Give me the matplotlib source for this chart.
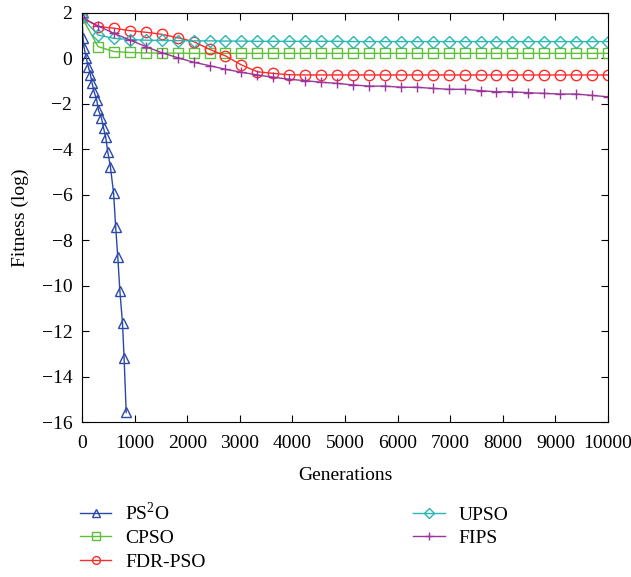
import matplotlib
matplotlib.use("Agg")
import matplotlib.pyplot as plt
import numpy as np

plt.rcParams["font.family"] = "Liberation Serif"
plt.rcParams["mathtext.fontset"] = "custom"
plt.rcParams["mathtext.rm"] = "Liberation Serif"

# PS2O is sampled more densely at the start of the run
gens_ps2o = [0, 20, 40, 80, 120, 160, 190, 230, 280, 310, 370, 410, 450,
             490, 540, 600, 640, 680, 720, 770, 800, 840]
fit_ps2o = [1.8, 0.89, 0.46, 0.02, -0.38, -0.73, -1.08, -1.48, -1.83, -2.27,
            -2.63, -3.07, -3.46, -4.12, -4.78, -5.93, -7.43, -8.75, -10.25,
            -11.66, -13.2, -15.58]

# the other four share a grid of 34 samples over 10000 generations
gens = np.linspace(0, 10000, 34)
fit_cpso = [1.8, 0.52, 0.30, 0.26, 0.24, 0.23, 0.23, 0.22, 0.22, 0.22, 0.22,
            0.22, 0.22, 0.22, 0.22, 0.22, 0.22, 0.22, 0.22, 0.22, 0.22, 0.22,
            0.22, 0.22, 0.22, 0.22, 0.22, 0.22, 0.22, 0.22, 0.22, 0.22, 0.22,
            0.22]
fit_fdr = [1.8, 1.40, 1.33, 1.22, 1.15, 1.06, 0.91, 0.74, 0.40, 0.11, -0.29,
           -0.59, -0.66, -0.72, -0.73, -0.73, -0.73, -0.73, -0.73, -0.73,
           -0.73, -0.73, -0.73, -0.73, -0.73, -0.73, -0.73, -0.73, -0.73,
           -0.73, -0.73, -0.73, -0.73, -0.73]
fit_upso = [1.8, 1.03, 0.88, 0.83, 0.80, 0.79, 0.78, 0.77, 0.77, 0.76, 0.76,
            0.75, 0.75, 0.75, 0.75, 0.75, 0.75, 0.74, 0.74, 0.74, 0.74, 0.74,
            0.74, 0.74, 0.74, 0.74, 0.74, 0.74, 0.74, 0.74, 0.74, 0.74, 0.74,
            0.74]
fit_fips = [1.8, 1.43, 1.10, 0.81, 0.52, 0.25, 0.03, -0.17, -0.32, -0.48,
            -0.61, -0.73, -0.83, -0.92, -0.98, -1.05, -1.10, -1.17, -1.22,
            -1.22, -1.27, -1.27, -1.32, -1.36, -1.36, -1.42, -1.47, -1.47,
            -1.51, -1.54, -1.57, -1.57, -1.63, -1.69]

fig = plt.figure(figsize=(6.31, 5.77), dpi=100)
ax = fig.add_axes([0.130, 0.2686, 0.8336, 0.709])

style = dict(linewidth=1.0, markersize=7.5, fillstyle="none", markeredgewidth=1.0)
ax.plot(gens_ps2o, fit_ps2o, marker="^", color="#2a48a8", label="PS$^2$O", **style)
ax.plot(gens, fit_cpso, marker="s", color="#5fbf3a", label="CPSO", **style)
ax.plot(gens, fit_fdr, marker="o", color="#ff2a2a", label="FDR-PSO", **style)
ax.plot(gens, fit_upso, marker="D", color="#2ab5b5", label="UPSO",
        **{**style, "markersize": 6.5})
ax.plot(gens, fit_fips, marker="+", color="#9a359a", label="FIPS", **style)

ax.set_xlim(0, 10000)
ax.set_ylim(-16, 2)
ax.set_xticks(np.arange(0, 10001, 1000))
ax.set_yticks(np.arange(-16, 3, 2))
ax.tick_params(direction="in", top=True, right=True, labelsize=14, length=5)
ax.tick_params(axis="x", pad=9)
ax.tick_params(axis="y", pad=7)
ax.set_xlabel("Generations", fontsize=14, labelpad=11)
ax.set_ylabel("Fitness (log)", fontsize=14, labelpad=9)

fig.legend(loc="upper left", bbox_to_anchor=(0.115, 0.145), ncol=2,
           frameon=False, fontsize=14, handlelength=1.6, markerscale=0.75,
           labelspacing=0.3, columnspacing=10.7, handletextpad=0.7,
           borderaxespad=0)

fig.savefig("out.png", dpi=100)
